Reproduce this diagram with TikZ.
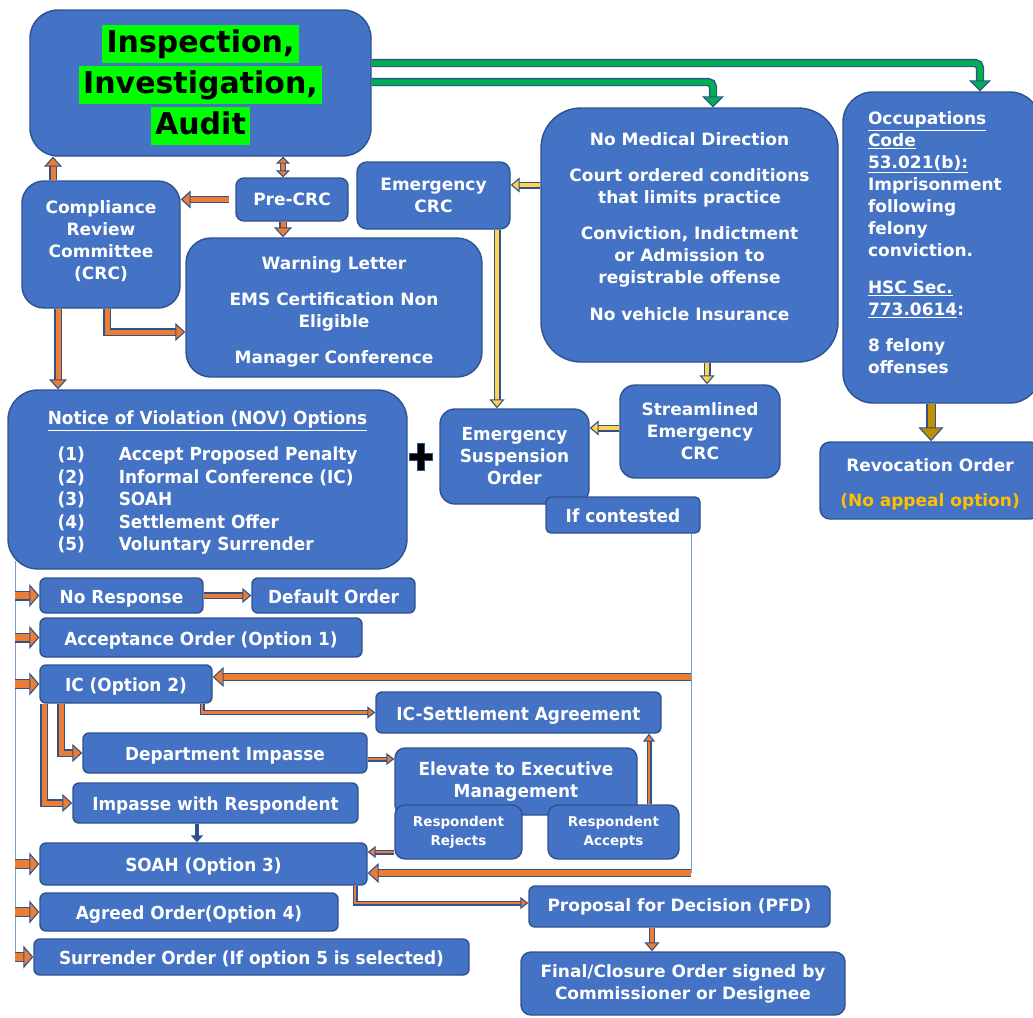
\documentclass[tikz,border=0pt]{standalone}
\usepackage{fontspec}
\setmainfont{DejaVu Sans}
\newfontfamily\tahfam{DejaVu Sans}[FakeStretch=0.94]
\usetikzlibrary{arrows.meta}
\definecolor{boxblue}{HTML}{4472C4}
\definecolor{edgec}{HTML}{2F528F}
\definecolor{orng}{HTML}{ED7D31}
\definecolor{grn}{HTML}{00B050}
\definecolor{hlgreen}{HTML}{00FF00}
\definecolor{ylw}{HTML}{FFD34E}
\definecolor{goldc}{HTML}{BF9000}
\definecolor{ytext}{HTML}{FFC000}
\definecolor{thinblue}{HTML}{7F9BD0}
\newcommand\myvf[2]{\fontsize{#1}{#2}\selectfont\bfseries}
\newcommand\mytf[2]{\tahfam\fontsize{#1}{#2}\selectfont\bfseries}
\setlength{\fboxsep}{0pt}
\newcommand\myhl[1]{\colorbox{hlgreen}{\rule[-11pt]{0pt}{38pt}\hspace{4.5pt}#1\hspace{4.5pt}}}
\tikzset{
  box/.style={draw=edgec, fill=boxblue, line width=1.4pt, text=white, align=center, inner sep=0pt, font=\myvf{17}{22}},
  tbox/.style={box, font=\mytf{18}{22}},
  sl/.style={text height=15pt, text depth=0pt},
  wh/.style 2 args={minimum width=#1pt, minimum height=#2pt},
  rc/.style={rounded corners=#1pt},
  guide/.style={draw=thinblue, line width=0.8pt},
  barrow/.style n args={6}{draw=#1, line width=#2pt,
    -{Triangle[width=#4pt, length=#5pt, fill=#1, color=edgec, line width=1.1pt]},
    preaction={draw=edgec, line width=#3pt, -, shorten >=#6pt}},
  dbarrow/.style n args={6}{draw=#1, line width=#2pt,
    {Triangle[width=#4pt, length=#5pt, fill=#1, color=edgec, line width=1.1pt]}-{Triangle[width=#4pt, length=#5pt, fill=#1, color=edgec, line width=1.1pt]},
    preaction={draw=edgec, line width=#3pt, -, shorten >=#6pt, shorten <=#6pt}},
  arrbig/.style={barrow={orng}{5}{7.4}{18}{10}{8.5}},
  arrlong/.style={barrow={orng}{6}{8.6}{20}{11}{9.5}},
  arrmed/.style={barrow={orng}{4}{6.4}{15}{9}{7.5}},
  arrthin/.style={barrow={orng}{2.8}{5}{12}{8}{6.5}},
  arrleft/.style={barrow={orng}{7.5}{10}{23}{10}{8.5}},
  arrgreen/.style={barrow={grn}{5.5}{8.3}{22}{11}{9.5}},
  arryellow/.style={barrow={ylw}{4.5}{7}{15}{9}{7.5}},
  arrgold/.style={barrow={goldc}{7}{9.5}{25}{14}{12.5}},
  arrdouble/.style={dbarrow={orng}{4}{6.4}{14}{7}{5.5}},
  arrnavy/.style={draw=edgec, line width=4pt, -{Triangle[width=12pt, length=7pt]}},
}
\begin{document}
\begin{tikzpicture}[x=1pt, y=-1pt]
\fill[white] (0,0) rectangle (1033,1017);
\useasboundingbox (0,0) rectangle (1033,1017);

% ---- top area
\node[box, font=\myvf{30}{41}, text=black, wh={341}{146}, rc=28] (insp) at (200.5,83)
  {\rule{0pt}{31pt}\myhl{Inspection,}\\\myhl{Investigation,}\\\myhl{Audit}};
\node[box, wh={158}{127}, rc=22] (crc) at (101,244.5) {Compliance\\Review\\Committee\\(CRC)\rule[-9pt]{0pt}{0pt}};
\node[box, wh={112}{43}, rc=8] (precrc) at (292,199.5) {Pre-CRC};
\node[box, wh={153}{67}, rc=10] (emcrc) at (433.5,195.5) {Emergency\\CRC};
\node[box, wh={296}{139}, rc=25] (warn) at (334,307.5)
  {\rule{0pt}{21pt}Warning Letter\\[14pt]EMS Certification Non\\Eligible\\[14pt]Manager Conference};
\node[box, wh={297}{254}, rc=40] (nomed) at (689.5,235)
  {No Medical Direction\\[14pt]Court ordered conditions\\that limits practice\\[14pt]Conviction, Indictment\\or Admission to\\registrable offense\\[15pt]No vehicle Insurance\rule[-16pt]{0pt}{0pt}};
\node[box, wh={197}{311}, rc=30, align=left, text width=147pt] (occ) at (941.5,247.5)
  {\underline{Occupations}\\\underline{Code}\\\underline{53.021(b):}\\Imprisonment\\following\\felony\\conviction.\\[15pt]\underline{HSC Sec.}\\\underline{773.0614}:\\[14pt]8 felony\\offenses\rule[-9pt]{0pt}{0pt}};
\node[box, wh={220}{77}, rc=10] (revo) at (930,480.5)
  {\rule{0pt}{21pt}Revocation Order\\[13pt]\textcolor{ytext}{(No appeal option)}};
\node[box, wh={160}{93}, rc=15] (stream) at (700,431.5) {Streamlined\\Emergency\\CRC};
\node[tbox, wh={149}{95}, rc=15] (eso) at (514.5,456.5) {Emergency\\Suspension\\Order};
\node[tbox, sl, wh={154}{36}, rc=5] (contested) at (623,515) {If contested};

% ---- NOV
\node[tbox, font=\mytf{18}{22.5}, wh={399}{179}, rc=30] (nov) at (207.5,479.5)
  {\rule{0pt}{23pt}\underline{Notice of Violation (NOV) Options}\\[13.5pt]%
   \begin{tabular}[t]{@{}l@{\hspace{34pt}}l@{}}
   (1)&Accept Proposed Penalty\\
   (2)&Informal Conference (IC)\\
   (3)&SOAH\\
   (4)&Settlement Offer\\
   (5)&Voluntary Surrender
   \end{tabular}};
\filldraw[fill=black, draw=edgec, line width=0.8pt]
  (417.5,443.5) -- (424.5,443.5) -- (424.5,453.5) -- (432.5,453.5) -- (432.5,460.5)
  -- (424.5,460.5) -- (424.5,470.5) -- (417.5,470.5) -- (417.5,460.5) -- (409.5,460.5)
  -- (409.5,453.5) -- (417.5,453.5) -- cycle;

% ---- lower area
\node[tbox, sl, wh={163}{35}, rc=6] (nores) at (121.5,595.5) {No Response};
\node[tbox, sl, wh={163}{35}, rc=6] (dflt) at (333.5,595.5) {Default Order};
\node[tbox, sl, wh={322}{39}, rc=6] (accept) at (201,637.5) {Acceptance Order (Option 1)};
\node[tbox, sl, wh={172}{38}, rc=6] (ic) at (126,684) {IC (Option 2)};
\node[tbox, sl, wh={285}{41}, rc=6] (icsettle) at (518.5,712.5) {IC-Settlement Agreement};
\node[tbox, sl, wh={284}{40}, rc=6] (dept) at (225,753) {Department Impasse};
\node[tbox, sl, wh={285}{40}, rc=6] (impresp) at (215.5,803) {Impasse with Respondent};
\node[tbox, wh={242}{67}, rc=10] (elevate) at (516,781.5) {Elevate to Executive\\Management};
\node[box, font=\myvf{13.5}{19}, wh={127}{54}, rc=10] (rejects) at (458.5,832) {Respondent\\Rejects};
\node[box, font=\myvf{13.5}{19}, wh={131}{54}, rc=10] (accepts) at (613.5,832) {Respondent\\Accepts};
\node[tbox, sl, wh={327}{42}, rc=6] (soah) at (203.5,864) {SOAH (Option 3)};
\node[tbox, sl, wh={298}{38}, rc=6] (agreed) at (189,912) {Agreed Order(Option 4)};
\node[tbox, sl, wh={435}{36}, rc=6] (surrender) at (251.5,957) {Surrender Order (If option 5 is selected)};
\node[box, wh={301}{41}, rc=6] (pfd) at (679.5,906.5) {Proposal for Decision (PFD)};
\node[box, wh={324}{63}, rc=10] (final) at (683,983.5) {Final/Closure Order signed by\\Commissioner or Designee};

% ---- guide lines
\coordinate (ltop) at (15,561);
\coordinate (lbot) at (15,962);
\draw[guide] (ltop) -- (lbot);
\coordinate (rtop) at ([xshift=68pt]contested.south);
\coordinate (r1) at (691,677);
\coordinate (r2) at (691,873);
\draw[guide] (rtop) -- (r2);

% ---- green connectors
\coordinate (g1) at ([yshift=20pt]insp.east);
\coordinate (g1e) at ([xshift=38.5pt]occ.north);
\draw[arrgreen, rounded corners=5pt] (g1) -| (g1e);
\coordinate (g2) at ([yshift=1pt]insp.east);
\coordinate (g2e) at ([xshift=23.5pt]nomed.north);
\draw[arrgreen, rounded corners=5pt] (g2) -| (g2e);

% ---- orange connectors, top
\coordinate (cu) at ([xshift=-48pt]crc.north);
\draw[arrbig] (cu) -- (cu |- insp.south);
\coordinate (pu) at ([xshift=-9pt]precrc.north);
\draw[arrdouble] (pu) -- (pu |- insp.south);
\draw[arrbig] ([xshift=-6pt]precrc.west) -- (precrc.west -| crc.east);
\coordinate (pd) at ([xshift=-9pt]precrc.south);
\draw[arrbig] (pd) -- (pd |- warn.north);
\coordinate (cw) at ([xshift=6pt]crc.south);
\draw[arrbig] (cw) |- ([yshift=-24.5pt]warn.west);
\coordinate (cn) at ([xshift=-43pt]crc.south);
\draw[arrbig] (cn) -- (cn |- nov.north);

% ---- yellow / gold connectors
\coordinate (ny) at ([yshift=50pt]nomed.west);
\draw[arryellow] (ny) -- (ny -| emcrc.east);
\coordinate (ey) at ([xshift=63.5pt]emcrc.south);
\draw[arryellow] (ey) -- (ey |- eso.north);
\coordinate (ns) at ([xshift=17.5pt]nomed.south);
\draw[arryellow] (ns) -- (ns |- stream.north);
\coordinate (se) at ([yshift=3.5pt]stream.west);
\draw[arryellow] (se) -- (se -| eso.east);
\coordinate (oc) at ([xshift=-10.5pt]occ.south);
\draw[arrgold] (oc) -- (oc |- revo.north);

% ---- left feed arrows
\draw[arrleft] (ltop |- nores.west) -- (nores.west);
\draw[arrleft] (ltop |- accept.west) -- (accept.west);
\draw[arrleft] (ltop |- ic.west) -- (ic.west);
\draw[arrleft] (ltop |- soah.west) -- (soah.west);
\draw[arrleft] (ltop |- agreed.west) -- (agreed.west);
\draw[arrleft] (ltop |- surrender.west) -- (surrender.west);
\draw[arrmed] (nores.east) -- (dflt.west);

% ---- contested feeds
\draw[arrlong] (r1) -- (r1 -| ic.east);
\draw[arrlong] (r2) -- (r2 -| soah.east);

% ---- IC branch
\draw[arrthin] ([xshift=76pt]ic.south) |- (icsettle.west);
\draw[arrbig] ([xshift=-65pt]ic.south) |- (dept.west);
\draw[arrbig] ([xshift=-82pt]ic.south) |- (impresp.west);
\coordinate (de) at ([yshift=-6pt]dept.east);
\draw[arrthin] (de) -- (de -| elevate.west);
\coordinate (ac) at ([xshift=35.5pt]accepts.north);
\draw[arrthin] (ac) -- (ac |- icsettle.south);
\coordinate (rj) at ([yshift=-20pt]rejects.west);
\draw[arrthin] (rj) -- (rj -| soah.east);
\coordinate (im) at ([xshift=-18.5pt]impresp.south);
\draw[arrnavy] (im) -- (im |- soah.north);
\coordinate (sp) at ([xshift=151.5pt]soah.south);
\draw[arrthin] (sp) |- ([yshift=3.5pt]pfd.west);
\coordinate (pf) at ([xshift=-27.5pt]pfd.south);
\draw[arrmed] (pf) -- (pf |- final.north);
\end{tikzpicture}
\end{document}
